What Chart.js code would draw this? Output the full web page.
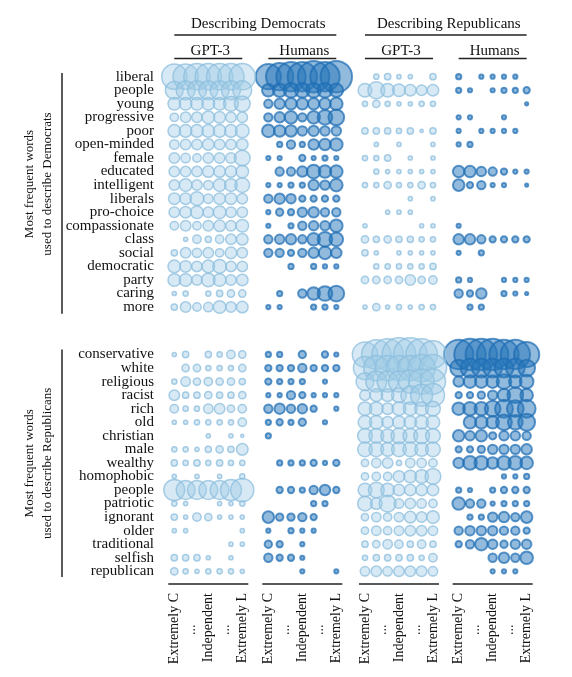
<!DOCTYPE html>
<html><head><meta charset="utf-8">
<script src="https://cdn.jsdelivr.net/npm/chart.js@4.4.1/dist/chart.umd.min.js"></script>
<style>html,body{margin:0;padding:0;background:#fff;}#wrap{width:572px;height:677px;position:relative;}</style>
</head><body><div id="wrap"><canvas id="c"></canvas></div>
<script>
// ---------- DATA ----------
const demWords = ['liberal','people','young','progressive','poor','open-minded','female','educated','intelligent','liberals','pro-choice','compassionate','class','social','democratic','party','caring','more'];
const repWords = ['conservative','white','religious','racist','rich','old','christian','male','wealthy','homophobic','people','patriotic','ignorant','older','traditional','selfish','republican'];
const leaningLabels = ['Extremely C','...','Independent','...','Extremely L'];
const leaningTickCols = [0,1.5,3,4.5,6];
const panelTitles = ['GPT-3','Humans','GPT-3','Humans'];
const groupTitles = ['Describing Democrats','Describing Republicans'];
const sideTitles = [['Most frequent words','used to describe Democrats'],['Most frequent words','used to describe Republicans']];

// relative word frequency per political leaning (7 columns: Extremely C ... Extremely L)
// rows: 18 Democrat words followed by 17 Republican words
const gptDescribingDem = [
 [12,12,12.5,12.5,12.5,12.5,12.5],[8.5,9,9,9,9,9,9],[6,6,6,6,6,7,7.5],[4,5,5,6,5.5,5,5],
 [6,6,6,6,6,6,6.5],[4.5,5,5,5.5,5,5,5.5],[5,4.5,4,5,5,5,7.5],[5,5,5,5.5,5.5,5.5,6],
 [5,6,5,4.5,6,6,7],[5.5,5.5,6.5,4.5,5.5,5.5,5],[5,5.5,6,5,6,5,5],[4,5,4,5,5.5,5,6],
 [0,2,4,3,4,5,5.5],[3,5,4.5,5,4,5.5,5],[6,5.5,5,6,6.5,5,5],[6,6,5,6.5,6,5,5.5],
 [2,2.5,0,2.5,3,3.5,3.5],[3,5,4,4.5,6,5,5.5],
 [2,3,0,3,2.5,4,3.5],[0,3.5,3.5,2.5,2.5,2.5,3.5],[2.5,4.5,3.5,4,3.5,3.5,3],[5,3,3,3.5,3,3,3.5],
 [4,2.5,2.5,4.5,5,3.5,4],[2,2,2.5,2.5,2.5,2.5,4],[0,0,0,2,0,2,1.5],[2.5,2.5,2,3,3.5,3,5.5],
 [3,2.5,3,2.5,3,2.5,2.5],[2,0,2,0,2,0,2.5],[10,9,9,9,9,10,11],[2.5,2,0,0,2,2,2.5],
 [3,2,4,3.5,2,2,2],[2,2,0,0,0,0,2],[0,0,0,0,0,2,2],[3,3,3,2,0,2,0],[3.5,2.5,2,2.5,2.5,2.5,2]
];
const humanDescribingDem = [
 [12,13,14,14,15,14,15],[6,6.5,7,7,7,7,6.5],[4,5,5.5,5.5,5.5,5.5,6],[4,5,6,4,6,7,7.5],
 [6,5.5,5.5,4.5,5,4.5,4.5],[0,2.5,4,2.5,5,5.5,6],[2,2,0,3,2,2.5,2],[0,4,4,5,6.5,6,6],
 [2,2,2.5,2.5,5,4.5,6],[4,5,4.5,3,3,3,3],[2,3.5,3,4.5,5,4,4],[2,0,2.5,4,4.5,4.5,6],
 [4,4.5,5,4,6,7,6.5],[4,4,3,4,5,6,5],[0,0,2.5,0,2.5,2,2],[0,0,0,0,0,0,0],
 [0,2.5,0,4,6,7,7.5],[2,2,0,0,2.5,2.5,2],
 [2.5,2.5,0,3.5,0,3,2],[3,3,3,4,3,3,3],[3,2.5,2.5,2.5,0,2,0],[2,2,4,3,2,2,2],
 [4,5,4,4.5,3,0,2],[2.5,3,2.5,3.5,0,2,0],[2.5,0,0,0,0,0,0],[0,0,0,0,0,0,0],
 [0,2.5,2.5,2.5,3,2,3],[0,0,0,0,0,0,0],[0,3,3,2.5,4,5,3],[0,0,0,0,2.5,2.5,0],
 [5.5,3.5,3.5,4,3,0,0],[2,0,2.5,2,2,0,0],[3.5,3,0,2,0,0,0],[4,3,3,2,0,0,0],[0,0,0,2,0,0,2]
];
const gptDescribingRep = [
 [0,2.5,3,2,2,0,3],[6.5,8,6.5,6,5.5,5,5.5],[2.5,3.5,2.5,2,2,2.5,2.5],[0,0,0,0,0,0,0],
 [3,3,3,2.5,3,1.5,3],[0,2,0,2,0,0,2],[2.5,2.5,3,0,2,0,2],[0,2.5,2,2,2,2,2],
 [2.5,2.5,3.5,2.5,2.5,3.5,2.5],[0,0,0,0,2,0,2],[0,0,2,2,2,0,0],[2,0,0,0,0,2,2],
 [3.5,3,3.5,3,3,2.5,2.5],[3,2,0,2,2,2,2],[0,2.5,2.5,2.5,2.5,2.5,3],[3.5,3.5,3.5,3.5,5,3.5,4],
 [0,0,0,0,0,0,0],[2,3.5,2,2.5,2,2.5,2.5],
 [12,14,15,16,16,15,13],[11,12,12,12,12,13,13],[8.5,10,10,10,11,12,12],[5,6,6,7,9,10.5,11],
 [6.5,6.5,5.5,6.5,6.5,6.5,7],[6.5,6.5,5.5,6,6,6.5,6.5],[7,7,6.5,7.5,7,7.5,7],[7,7,6.5,7,7,6.5,7],
 [3.5,4.5,5,2.5,4.5,4.5,4],[3.5,4,4,5.5,6,6.5,7.5],[6.5,7.5,6.5,5.5,5.5,5.5,5.5],[7,5.5,8,4.5,5,4.5,4],
 [3.5,4.5,4,4.5,5.5,5,6],[3.5,4.5,4,4.5,5,5,4.5],[3,3.5,4.5,4,3,4,3],[2.5,3,3,3,3,2.5,4],[4.5,5,4.5,5,5,5,4.5]
];
const humanDescribingRep = [
 [2.5,0,2,2,2,2,0],[2.5,2,0,2,2.5,2.5,3],[0,0,0,0,0,0,1.5],[2,2,0,0,2,0,0],
 [2,0,2,2,2,2,0],[2,2.5,0,0,0,0,0],[0,0,0,0,0,0,0],[5.5,5.5,4.5,4,3,2,2],
 [5.5,3,4,2,2,0,1.5],[0,0,0,0,0,0,0],[0,0,0,0,0,0,0],[2,0,0,0,0,0,0],
 [5,5,4,3,3,3,3],[2,0,2.5,0,0,0,0],[0,0,0,0,0,0,0],[2.5,2,0,0,2,2,2],
 [4,3,5,0,2.5,2,1.5],[0,2.5,2.5,0,0,0,0],
 [14,15,15,15,14,14,12],[8,9,9,9,9,9,8],[5,6,6,6,7,6,6.5],[3,3,3.5,4.5,6,7.5,6],
 [6,6.5,6.5,7.5,8.5,8,8.5],[0,6,6,6,7.5,7,8],[5.5,4.5,5.5,3.5,4.5,4.5,4],[3,3,3.5,4.5,4.5,4.5,5],
 [5,6.5,6.5,5.5,6.5,6.5,6],[0,0,0,0,2,2,2.5],[2.5,2,0,2.5,3,3,3],[6,4,4,2,2.5,2.5,2.5],
 [0,2.5,2.5,4.5,5,4,5.5],[4,4.5,4.5,4.5,4,4,3],[3,4,6,4.5,3.5,4.5,4.5],[0,0,0,4,5,4,6],[0,0,0,2,2,2,0]
];

// ---------- LAYOUT ----------
const PANEL_X = [0, 8.3, 16.83, 25.1];   // x offset of each panel's first column
const REP_START = 20.5;                  // y position of first Republican word row
const R_SCALE = 1.05;
const allWords = demWords.concat(repWords);
const rowPos = i => i < demWords.length ? i : REP_START + (i - demWords.length);

const LIGHT = {bg:'rgba(158,202,228,0.42)', bd:'rgba(140,190,222,0.75)', bw:1.5};
const DARK  = {bg:'rgba(38,118,185,0.5)',  bd:'rgba(30,110,180,0.72)', bw:2};
const panels = [
  {values: gptDescribingDem, st: LIGHT},
  {values: humanDescribingDem, st: DARK},
  {values: gptDescribingRep, st: LIGHT},
  {values: humanDescribingRep, st: DARK}
];
const datasets = panels.map((p, pi) => ({
  data: p.values.flatMap((row, ri) => row.map((v, ci) => v > 0 ? {x: PANEL_X[pi] + ci, y: rowPos(ri), r: v * R_SCALE} : null)).filter(Boolean),
  backgroundColor: p.st.bg, borderColor: p.st.bd, borderWidth: p.st.bw,
  hoverRadius: 0, clip: false
}));

const xTickValues = PANEL_X.flatMap(o => leaningTickCols.map(c => o + c));
const xTickLabels = PANEL_X.flatMap(() => leaningLabels.map(l => l === '...' ? '...         ' : l));
const yTickValues = allWords.map((w, i) => rowPos(i));

const SERIF = '"Liberation Serif", "Times New Roman", serif';

const decor = {
  id: 'decor',
  afterDraw(chart) {
    const ctx = chart.ctx, xs = chart.scales.x, ys = chart.scales.y;
    const px = v => xs.getPixelForValue(v), py = v => ys.getPixelForValue(v);
    ctx.save();
    ctx.fillStyle = '#111'; ctx.strokeStyle = '#222'; ctx.lineWidth = 1.5;
    const line = (x0, y0, x1, y1) => { ctx.beginPath(); ctx.moveTo(x0, y0); ctx.lineTo(x1, y1); ctx.stroke(); };
    ctx.font = '15px ' + SERIF; ctx.textAlign = 'center'; ctx.textBaseline = 'alphabetic';
    for (let g = 0; g < 2; g++) {
      const x0 = px(PANEL_X[2*g]), x1 = px(PANEL_X[2*g+1] + 6);
      ctx.fillText(groupTitles[g], (x0 + x1) / 2 + 3, 27.5);
      line(x0, 35, x1, 35);
    }
    for (let p = 0; p < 4; p++) {
      const x0 = px(PANEL_X[p]), x1 = px(PANEL_X[p] + 6), mid = (x0 + x1) / 2;
      ctx.fillText(panelTitles[p], mid + 2, 55);
      line(x0, 58.5, x1, 58.5);
      const yb = chart.chartArea.bottom - 1;
      line(mid - 40, yb, mid + 40, yb);
    }
    // side group labels
    const groups = [[py(-0.28), py(demWords.length - 0.5)], [py(REP_START - 0.37), py(REP_START + repWords.length - 0.58)]];
    groups.forEach(([t, b], g) => {
      line(62, t, 62, b);
      const cy = g === 0 ? 184 : (t + b) / 2;
      ctx.save();
      ctx.translate(0, cy); ctx.rotate(-Math.PI / 2);
      ctx.font = '13px ' + SERIF; ctx.textAlign = 'center'; ctx.textBaseline = 'middle';
      ctx.fillText(sideTitles[g][0], 0, 30);
      ctx.fillText(sideTitles[g][1], 0, 48);
      ctx.restore();
    });
    ctx.restore();
  }
};

new Chart(document.getElementById('c'), {
  type: 'bubble',
  data: {datasets},
  options: {
    responsive: true, maintainAspectRatio: false, animation: false, events: [],
    layout: {padding: {left: 0, right: 27, top: 60, bottom: 0}},
    plugins: {legend: {display: false}, tooltip: {enabled: false}},
    scales: {
      x: {
        type: 'linear', position: 'bottom', min: -1.262, max: 32.72, bounds: 'data',
        grid: {display: false, drawTicks: false}, border: {display: false},
        afterBuildTicks: s => { s.ticks = xTickValues.map(v => ({value: v})); },
        afterFit: s => { s.height = 92; },
        ticks: {autoSkip: false, minRotation: 90, maxRotation: 90, padding: 8, color: '#111',
                font: {family: SERIF, size: 14}, callback: (v, i) => xTickLabels[i]}
      },
      y: {
        type: 'linear', reverse: true, min: -1.2325, max: 37.51, bounds: 'data',
        grid: {display: false, drawTicks: false}, border: {display: false},
        afterBuildTicks: s => { s.ticks = yTickValues.map(v => ({value: v})); },
        afterFit: s => { s.width = 160; },
        ticks: {autoSkip: false, padding: 6, color: '#111',
                font: {family: SERIF, size: 15}, callback: (v, i) => allWords[i]}
      }
    }
  },
  plugins: [decor]
});
</script>
</body></html>
